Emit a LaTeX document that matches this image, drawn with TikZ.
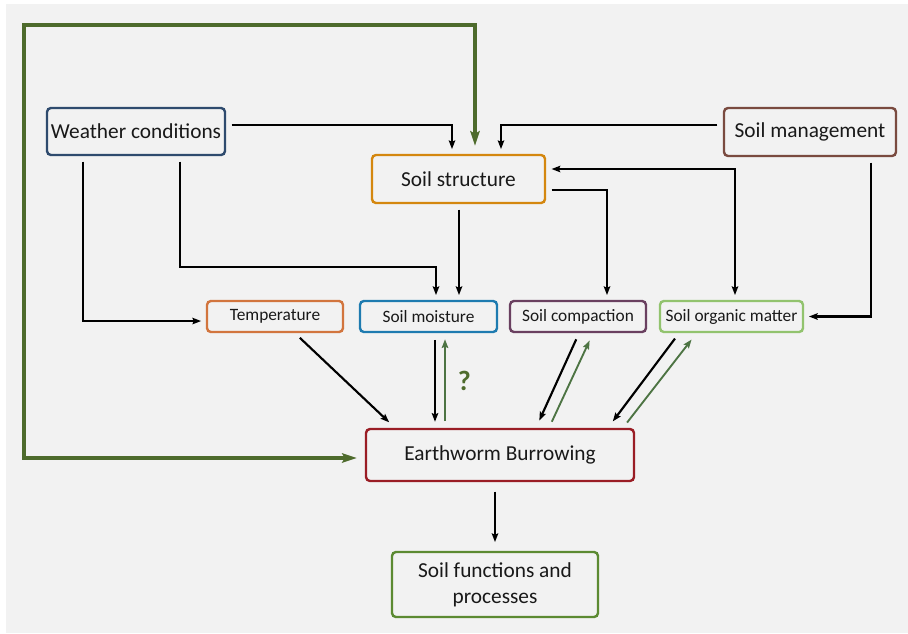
\documentclass[tikz,border=0pt]{standalone}
\usepackage{fontspec}
\setmainfont{Carlito}
\usetikzlibrary{calc,arrows.meta}

\definecolor{bggray}{HTML}{F2F2F2}
\definecolor{weathercol}{HTML}{2F4B6E}
\definecolor{structcol}{HTML}{D4870F}
\definecolor{managecol}{HTML}{7A4B40}
\definecolor{tempcol}{HTML}{D2753E}
\definecolor{moistcol}{HTML}{1E7BB0}
\definecolor{compactcol}{HTML}{6A4060}
\definecolor{organiccol}{HTML}{92C36E}
\definecolor{burrowcol}{HTML}{9A1D25}
\definecolor{funccol}{HTML}{5C8A32}
\definecolor{loopgreen}{HTML}{4E6B2C}
\definecolor{thingreen}{HTML}{4D7443}

\tikzset{
    box/.style={draw, rounded corners=3pt, line width=1.8pt, fill=bggray, align=center, inner sep=0pt, text=black!90},
    bigbox/.style={box, font=\fontsize{16}{19.5}\selectfont},
    smallbox/.style={box, font=\fontsize{13}{15.5}\selectfont},
    link/.style={->, >={Stealth[length=6.5pt,width=4.8pt,inset=1pt]}, line width=1.6pt, shorten <=4pt, shorten >=3.5pt},
    diag/.style={link, shorten <=5pt, shorten >=6pt},
    greenlink/.style={diag, draw=thingreen, line width=1.4pt},
    loopline/.style={<->, >={Stealth[length=11pt,width=7pt,inset=2pt]}, line width=3pt, draw=loopgreen, shorten <=6pt, shorten >=6pt},
    qmark/.style={text=loopgreen, inner sep=0pt, font=\fontsize{21}{25}\selectfont\bfseries}
}

\begin{document}
\begin{tikzpicture}[x=0.75pt,y=-0.75pt]
            \useasboundingbox (0,0) rectangle (908,633);
            \fill[bggray] (6,4) rectangle (908,633);

            % boxes
            \node[bigbox, draw=weathercol, minimum width=133.5pt, minimum height=35.3pt] (weather) at (136,131.5) {Weather conditions};
            \node[bigbox, draw=structcol, minimum width=129.8pt, minimum height=36pt] (structure) at (458.5,179) {Soil structure};
            \node[bigbox, draw=managecol, minimum width=129pt, minimum height=36pt] (management) at (810,132) {Soil management};
            \node[smallbox, draw=tempcol, minimum width=102pt, minimum height=23.3pt] (temp) at (275,316.5) {Temperature};
            \node[smallbox, draw=moistcol, minimum width=102.8pt, minimum height=23.3pt] (moisture) at (428.5,316.5) {Soil moisture};
            \node[smallbox, draw=compactcol, minimum width=102pt, minimum height=23.3pt] (compaction) at (578,316.5) {Soil compaction};
            \node[smallbox, draw=organiccol, minimum width=107.3pt, minimum height=23.3pt] (organic) at (731.5,316.5) {Soil organic matter};
            \node[bigbox, draw=burrowcol, minimum width=201pt, minimum height=39pt] (burrow) at (500,455) {Earthworm Burrowing};
            \node[bigbox, draw=funccol, minimum width=154.5pt, minimum height=48.8pt] (functions) at (495,584.5) {Soil functions and\\processes};

            % drivers of soil structure
            \draw[loopline] (burrow.west |- 0,458) -| (24,25) -| (structure.north -| 475,0);
            \draw[link] (weather.east |- 0,125) -| (structure.north -| 452,0);
            \draw[link] (management.west |- 0,125) -| (structure.north -| 501,0);
            \draw[link, <->] (structure.east |- 0,169) -| (organic.north -| 735,0);
            \draw[link] (structure.east |- 0,190) -| (compaction.north -| 607,0);
            \draw[link] (structure.south -| 459,0) -- (moisture.north -| 459,0);

            % weather and management links
            \draw[link] (weather.south -| 83,0) |- ([yshift=-3.4pt]temp.west);
            \draw[link] (weather.south -| 180,0) -- (180,267) -| (moisture.north -| 436,0);
            \draw[link] (management.south -| 871,0) |- (organic.east);

            % into and out of burrowing
            \draw[diag] (temp.south -| 295,0) -- (burrow.north -| 395,0);
            \draw[link, shorten <=5pt, shorten >=4.5pt] (moisture.south -| 435,0) -- (burrow.north -| 435,0);
            \draw[link, shorten <=5pt, shorten >=4.5pt, draw=thingreen, line width=1.4pt] (burrow.north -| 445,0) -- (moisture.south -| 445,0)
                node[qmark, midway, right=9pt] {?};
            \draw[diag] (compaction.south -| 579,0) -- (burrow.north -| 536,0);
            \draw[greenlink] (burrow.north -| 549,0) -- (compaction.south -| 593,0);
            \draw[diag] (organic.south -| 679,0) -- (burrow.north -| 608,0);
            \draw[greenlink] (burrow.north -| 623,0) -- (organic.south -| 696.5,0);
            \draw[link, shorten <=7pt, shorten >=6.5pt] (burrow.south -| functions.north) -- (functions.north);
        \end{tikzpicture}
\end{document}
